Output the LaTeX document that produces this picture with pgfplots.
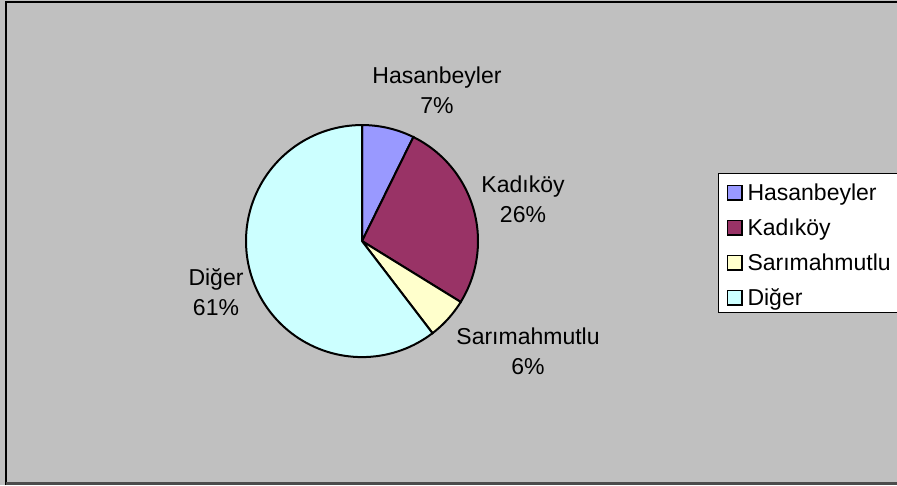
\documentclass[border=0pt]{standalone}
\usepackage{fontspec}
\setmainfont{Liberation Sans}
\usepackage{pgfplots}
\usepackage{pgfplotstable}
\pgfplotsset{compat=1.18}
\definecolor{bggray}{HTML}{C0C0C0}
\definecolor{chasan}{HTML}{9999FF}
\definecolor{ckadi}{HTML}{993366}
\definecolor{csari}{HTML}{FFFFCC}
\definecolor{cdiger}{HTML}{CCFFFF}
% slice shares in percent (clockwise from 12 o'clock)
\pgfplotstableread{
name pct
Hasanbeyler 7.3
Kadikoy 26.5
Sarimahmutlu 5.8
Diger 60.4
}\piedata
\pgfplotstablegetelem{0}{pct}\of\piedata \let\pA\pgfplotsretval
\pgfplotstablegetelem{1}{pct}\of\piedata \let\pB\pgfplotsretval
\pgfplotstablegetelem{2}{pct}\of\piedata \let\pC\pgfplotsretval
\pgfplotstablegetelem{3}{pct}\of\piedata \let\pD\pgfplotsretval
\pgfmathsetmacro{\aA}{0}
\pgfmathsetmacro{\aB}{\pA*3.6}
\pgfmathsetmacro{\aC}{(\pA+\pB)*3.6}
\pgfmathsetmacro{\aD}{(\pA+\pB+\pC)*3.6}
\pgfmathsetmacro{\aE}{(\pA+\pB+\pC+\pD)*3.6}
\newcommand{\lblfont}{\fontsize{11.5}{15}\selectfont}
\begin{document}
\begin{tikzpicture}
\begin{axis}[
  width=448.5pt, height=242.5pt, scale only axis,
  xmin=0, xmax=897, ymin=0, ymax=485, y dir=reverse,
  hide axis, clip=false,
  legend cell align=left,
  legend style={at={(axis cs:718,173)}, anchor=north west, draw=black, line width=0.5pt,
    fill=white, inner xsep=4pt, inner ysep=3.4pt, row sep=7.3pt, column sep=2.5pt,
    font=\lblfont, nodes={inner sep=0pt, text height=10.2pt, text depth=0pt}},
  legend image code/.code={\draw[#1,draw=black,line width=0.8pt] (0pt,-4.6pt) rectangle (7.2pt,2.6pt);},
]
\fill[bggray] (axis cs:0,0) rectangle (axis cs:897,485);
\draw[black, line width=0.6pt] (axis cs:6,485) -- (axis cs:6,2) -- (axis cs:897,2);
\draw[black!70, line width=1.2pt] (axis cs:6,483.5) -- (axis cs:897,483.5);

\addplot[fill=chasan, draw=black, line width=1pt, domain=\aA:\aB, samples=20, variable=\t]
  ({362+116*sin(t)},{241-116*cos(t)}) -- (axis cs:362,241) -- cycle;
\addlegendentry{Hasanbeyler}
\addplot[fill=ckadi, draw=black, line width=1pt, domain=\aB:\aC, samples=50, variable=\t]
  ({362+116*sin(t)},{241-116*cos(t)}) -- (axis cs:362,241) -- cycle;
\addlegendentry{Kadıköy}
\addplot[fill=csari, draw=black, line width=1pt, domain=\aC:\aD, samples=20, variable=\t]
  ({362+116*sin(t)},{241-116*cos(t)}) -- (axis cs:362,241) -- cycle;
\addlegendentry{Sarımahmutlu}
\addplot[fill=cdiger, draw=black, line width=1pt, domain=\aD:\aE, samples=100, variable=\t]
  ({362+116*sin(t)},{241-116*cos(t)}) -- (axis cs:362,241) -- cycle;
\addlegendentry{Diğer}

\node[anchor=base, align=center, font=\lblfont, inner sep=0pt] at (axis cs:437,113) {Hasanbeyler\\7\%};
\node[anchor=base, align=center, font=\lblfont, inner sep=0pt] at (axis cs:523,222) {Kadıköy\\26\%};
\node[anchor=base, align=center, font=\lblfont, inner sep=0pt] at (axis cs:528,374) {Sarımahmutlu\\6\%};
\node[anchor=base, align=center, font=\lblfont, inner sep=0pt] at (axis cs:216,315) {Diğer\\61\%};
\end{axis}
\pgfresetboundingbox
\path (current axis.south west) rectangle (current axis.north east);
\end{tikzpicture}
\end{document}
